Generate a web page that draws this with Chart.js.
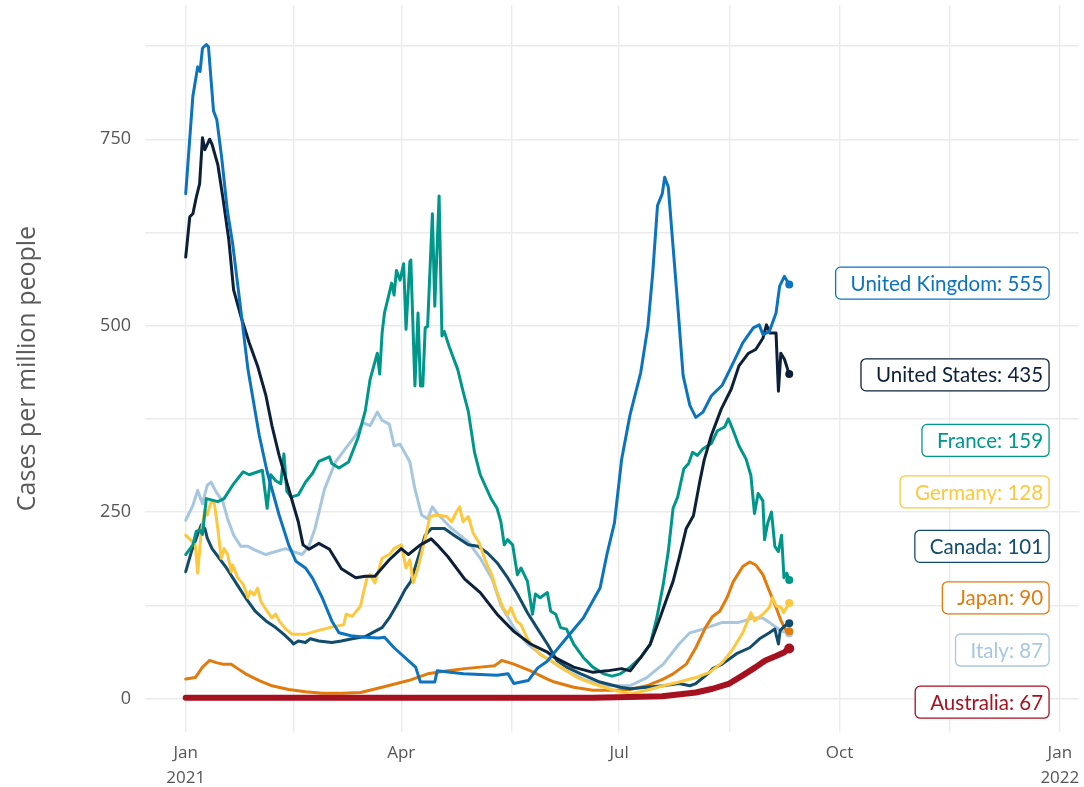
<!DOCTYPE html>
<html>
<head>
<meta charset="utf-8">
<script src="https://cdn.jsdelivr.net/npm/chart.js@4.4.1/dist/chart.umd.min.js"></script>
<style>
  html, body { margin: 0; padding: 0; background: #fff; }
  #wrap { width: 1084px; height: 787px; }
</style>
</head>
<body>
<div id="wrap"><canvas id="myChart"></canvas></div>
<script>
// days counted from 1 Jan 2021, values are cases per million people
const countries = ["United Kingdom", "United States", "France", "Germany", "Canada", "Japan", "Italy", "Australia"];
const latest = [555, 435, 159, 128, 101, 90, 87, 67];

const ukCases = [[0,677],[3,808],[5,847],[6,841],[7,872],[8.6,877],[9.5,874],[11.6,788],[13,776],[15,726],[17.4,654],[19.6,610],[23,521],[26,441],[30.7,353],[34,304],[39,246],[43,206],[46,184],[50,175],[53,161],[57,135],[61,104],[64,88],[69,84],[75,82],[80.5,81],[83,82],[87,68],[96,42],[98,22],[104,22],[105,37],[116,33],[123,32],[130,31],[134.6,33],[137,20],[143,24],[147,41],[151,50],[159,81],[166,108],[173,148],[176,195],[179,235],[182,320],[185.5,380],[190,437],[193,499],[195,570],[197,661],[199,677],[200,699],[201.5,686],[203.5,606],[205.6,521],[207.7,433],[210.5,393],[213,377],[216,384],[219.5,406],[224,420],[228,446],[232.6,477],[237,497],[239.5,501],[241,488],[243.7,492],[246.5,517],[248,553],[250,566],[252,555]];
const usCases = [[0,592],[1.7,646],[3,650],[4.4,672],[5.8,690],[7,752],[8,736],[10,750],[11,743],[13.4,716],[15.5,672],[18,615],[20,548],[23,513],[26.5,477],[30,446],[33.5,406],[36,366],[39,326],[43,281],[47,237],[49,206],[51.5,200],[55.6,208],[60,200],[65,174],[71,162],[75,164],[79,164],[85,186],[90,201],[93,193],[98,206],[102.5,214],[105,206],[109.5,190],[116.5,160],[123,142],[130,113],[137,90],[144,73],[151,62],[154,55],[162,42],[170,35],[176,37],[182,40],[185.6,37],[190,55],[194,73],[198,108],[201,135],[203.5,157],[206,188],[209,228],[212,245],[214.6,290],[216.5,320],[219.5,353],[223.6,388],[227.8,415],[231,446],[235,463],[238,468],[241,483],[242.5,501],[244,490],[246.5,490],[247.5,412],[248.5,463],[250,455],[252,435]];
const franceCases = [[0,193],[3,206],[4.4,224],[5.8,226],[7,220],[8.6,268],[11,266],[13.4,264],[16,268],[19.6,286],[24,304],[26.5,300],[32,306],[34,255],[35.5,300],[37.6,292],[39.7,288],[41,328],[42.2,278],[44,270],[47,273],[50,290],[53,302],[55.6,318],[60,324],[61,315],[64,309],[68,317],[72,350],[75,386],[77,428],[80,463],[81,435],[82,490],[83,517],[86,557],[87,541],[88,574],[89.5,561],[91,583],[92,495],[93.6,586],[94,588],[95.7,419],[97,517],[98,419],[99,419],[100,497],[101,499],[103,650],[104,526],[105.8,674],[107,486],[108,492],[110,472],[113.6,441],[115.8,412],[118,385],[120.6,330],[123,300],[127.5,268],[130,255],[131.6,237],[133,206],[134.4,213],[136.5,206],[138.5,166],[140,175],[142.7,157],[144.8,113],[146,140],[148,135],[151,142],[152.4,117],[154.5,113],[156.5,95],[159,93],[162,73],[166,55],[170,42],[174.5,33],[178,30],[181.5,33],[185.6,42],[190,55],[194,73],[196.7,108],[199.4,153],[201.5,197],[203.5,255],[205.4,270],[208,308],[210,315],[211.6,330],[213.7,326],[216,335],[219.5,342],[222,359],[225,364],[226.6,375],[228.4,361],[231,339],[234,321],[236,299],[237.5,248],[239,275],[241,265],[241.7,213],[243,235],[244.6,250],[246,204],[247.5,197],[248.8,219],[249.8,162],[251,168],[252,159]];
const germanyCases = [[0,219],[4,206],[5,168],[6.5,224],[8,253],[9,246],[10.6,264],[12,261],[13.4,228],[14.8,188],[16,201],[17.5,193],[19,170],[19.6,179],[21.7,162],[24,153],[26,135],[27,144],[28.6,139],[30,148],[31.4,130],[34,117],[36,108],[37.6,113],[39,104],[41.8,93],[44.5,86],[50,86],[54,90],[60,95],[66,99],[67,113],[69.5,110],[73,124],[74,139],[75.7,162],[77,166],[79,155],[82,188],[85,193],[87,201],[90,206],[92,175],[93.6,186],[95,155],[97,175],[100,215],[102,244],[105,246],[109,244],[111,237],[113,250],[114.4,257],[115.8,237],[118,244],[120,222],[122.6,208],[125,186],[128,164],[130,142],[132.4,122],[134.4,113],[135.8,122],[138,104],[140,99],[142.7,80],[145.5,68],[148,59],[152.4,51],[156.6,42],[163.5,28],[170,20],[178.7,11],[185.6,6],[192.5,11],[199.4,17],[206,22],[213,28],[218.7,35],[224,48],[228,64],[232.6,88],[236,115],[237.5,104],[241,113],[243.7,122],[245,135],[246.6,124],[248.6,122],[249.6,115],[252,128]];
const canadaCases = [[0,170],[2.4,197],[4.4,215],[6.5,233],[8,228],[9,215],[11,201],[14,188],[17,175],[19.6,162],[22.4,148],[25,135],[29,117],[33.5,104],[37.6,95],[41,86],[44,77],[45,73],[47,77],[50,75],[52,80],[55.6,77],[61,75],[65,77],[69.5,80],[75,83],[79,90],[82,95],[85,108],[89,130],[91.6,146],[94,157],[97,188],[100,219],[102.6,228],[104,228],[108,228],[112,219],[118,206],[122,204],[126,195],[130,182],[134.4,162],[138.5,140],[142.7,115],[147,93],[151,73],[155,51],[159,42],[165,33],[173,22],[181.5,15],[185.6,13],[192.5,15],[199.4,17],[206,20],[210.5,17],[213,20],[218.7,35],[220,40],[224,46],[230,60],[235.5,68],[239.6,80],[243.7,88],[246,93],[247.5,73],[248.2,91],[250,97],[252,101]];
const japanCases = [[0,26],[4,28],[7,42],[10,51],[12.7,48],[15.5,46],[19,46],[21.7,40],[25,33],[30.7,24],[36,17],[43,12],[50,9],[57,7],[65,7],[73,8],[82,15],[93,24],[101,33],[109.5,37],[116.5,40],[123,42],[129,44],[132,51],[137,46],[144,37],[151,26],[154,22],[162,15],[170,11],[180,11],[185.6,12],[192.5,17],[199.4,26],[203.5,33],[209,46],[213,68],[217,95],[220,110],[223,117],[226,135],[228.7,157],[232.6,177],[235.5,183],[238,179],[241,166],[243.7,144],[246.5,122],[248.6,104],[250.7,91],[252,90]];
const italyCases = [[0,239],[3,259],[5,279],[7,261],[9,286],[10.6,290],[12.7,277],[15.5,264],[17.5,241],[20,219],[23,204],[26,204],[29,199],[33.5,193],[37.6,197],[41.8,201],[45,197],[48.6,193],[51.4,204],[54,228],[58,281],[62.5,317],[66.7,335],[71,353],[74,370],[77,366],[80,384],[82,373],[85,368],[87,339],[89.5,341],[93.6,317],[95.7,281],[98.5,246],[101,241],[103,257],[105,248],[111,228],[116,215],[118,210],[123,188],[128,160],[131.6,125],[137,95],[142.7,73],[149.6,56],[159,37],[167.5,24],[176,17],[185.6,17],[192.5,28],[199.4,46],[206,73],[210.5,88],[216,93],[224,102],[231,102],[237,108],[241,108],[245,99],[249,90],[252,87]];
const australiaCases = [[0,1],[30,1],[60,1],[90,1],[120,1],[150,1],[170,1],[185,2],[199,3],[213,8],[220,13],[227,20],[232.6,31],[238,42],[242,51],[246.5,57],[250,62],[252,67]];

const yTicks = [0, 125, 250, 375, 500, 625, 750, 875];
const xTicks = [0, 45, 90, 136, 181, 227, 273, 319, 365];
const xTickLabels = {0: ["Jan", "2021"], 90: "Apr", 181: "Jul", 273: "Oct", 365: ["Jan", "2022"]};

// where the end labels sit (repelled, in chart units)
const labelY = [557, 434, 346, 277, 204, 135, 65, -5];
const labelX = 360.5;

const series = [ukCases, usCases, franceCases, germanyCases, canadaCases, japanCases, italyCases, australiaCases];
const colors = ["#0b73bf", "#0c2039", "#00978b", "#fdc83e", "#124c6d", "#e27b0b", "#a6c7df", "#a6111f"];

const endLabels = {
  id: "endLabels",
  afterDatasetsDraw(chart) {
    const { ctx, scales } = chart;
    const right = scales.x.getPixelForValue(labelX);
    ctx.save();
    ctx.font = "20.5px Lato";
    ctx.textBaseline = "middle";
    ctx.textAlign = "right";
    countries.forEach((name, i) => {
      const text = name + ": " + latest[i];
      const y = scales.y.getPixelForValue(labelY[i]);
      const w = ctx.measureText(text).width + 21;
      const h = 32;
      ctx.beginPath();
      ctx.roundRect(right - w, y - h / 2, w, h, 5);
      ctx.fillStyle = "#fff";
      ctx.fill();
      ctx.lineWidth = 1.3;
      ctx.strokeStyle = colors[i];
      ctx.stroke();
      ctx.fillStyle = colors[i];
      ctx.fillText(text, right - 6, y + 1);
    });
    ctx.restore();
  }
};

// drop the label overhang padding so the plot fills the frame like the original
const noPad = (scale) => {
  scale.paddingTop = 0;
  scale.paddingBottom = 0;
  scale.paddingLeft = 0;
  scale.paddingRight = 0;
};

const ctx = document.getElementById("myChart").getContext("2d");

new Chart(ctx, {
  type: "line",
  data: {
    datasets: countries.map((country, i) => {
      const pts = series[i].map(([x, y]) => ({ x, y }));
      const big = country === "Australia";
      return {
        label: country,
        data: pts,
        borderColor: colors[i],
        backgroundColor: colors[i],
        borderWidth: big ? 6 : 3,
        tension: 0,
        fill: false,
        order: big ? -1 : i,
        pointRadius: (c) => (c.dataIndex === pts.length - 1 ? (big ? 5 : 4) : 0),
        pointBorderWidth: 0,
        pointHoverRadius: 0,
        borderCapStyle: "round",
        borderJoinStyle: "round"
      };
    })
  },
  options: {
    responsive: true,
    maintainAspectRatio: false,
    animation: false,
    layout: { padding: 0 },
    plugins: {
      legend: { display: false },
      tooltip: { enabled: false }
    },
    scales: {
      x: {
        type: "linear",
        min: -17,
        max: 373,
        afterFit: (scale) => { scale.height = 55; noPad(scale); },
        afterBuildTicks: (scale) => { scale.ticks = xTicks.map(v => ({ value: v })); },
        border: { display: false },
        grid: { color: "#ebebeb", lineWidth: 1.4, drawTicks: false },
        ticks: {
          autoSkip: false,
          maxRotation: 0,
          padding: 9,
          color: "#555",
          font: { family: "Open Sans", size: 17, lineHeight: 1.45 },
          callback: (value) => xTickLabels[value] || ""
        }
      },
      y: {
        min: -45,
        max: 930,
        afterFit: (scale) => { scale.width = 145; noPad(scale); },
        afterBuildTicks: (scale) => { scale.ticks = yTicks.map(v => ({ value: v })); },
        border: { display: false },
        grid: { color: "#ebebeb", lineWidth: 1.4, drawTicks: false },
        ticks: {
          padding: 14,
          color: "#555",
          font: { family: "Open Sans", size: 18 },
          callback: (value) => (value % 250 === 0 ? value : "")
        },
        title: {
          display: true,
          text: "Cases per million people",
          color: "#5a5a5a",
          font: { family: "Open Sans", size: 25 },
          padding: { top: 13, bottom: 0 }
        }
      }
    }
  },
  plugins: [endLabels]
});
</script>
</body>
</html>
